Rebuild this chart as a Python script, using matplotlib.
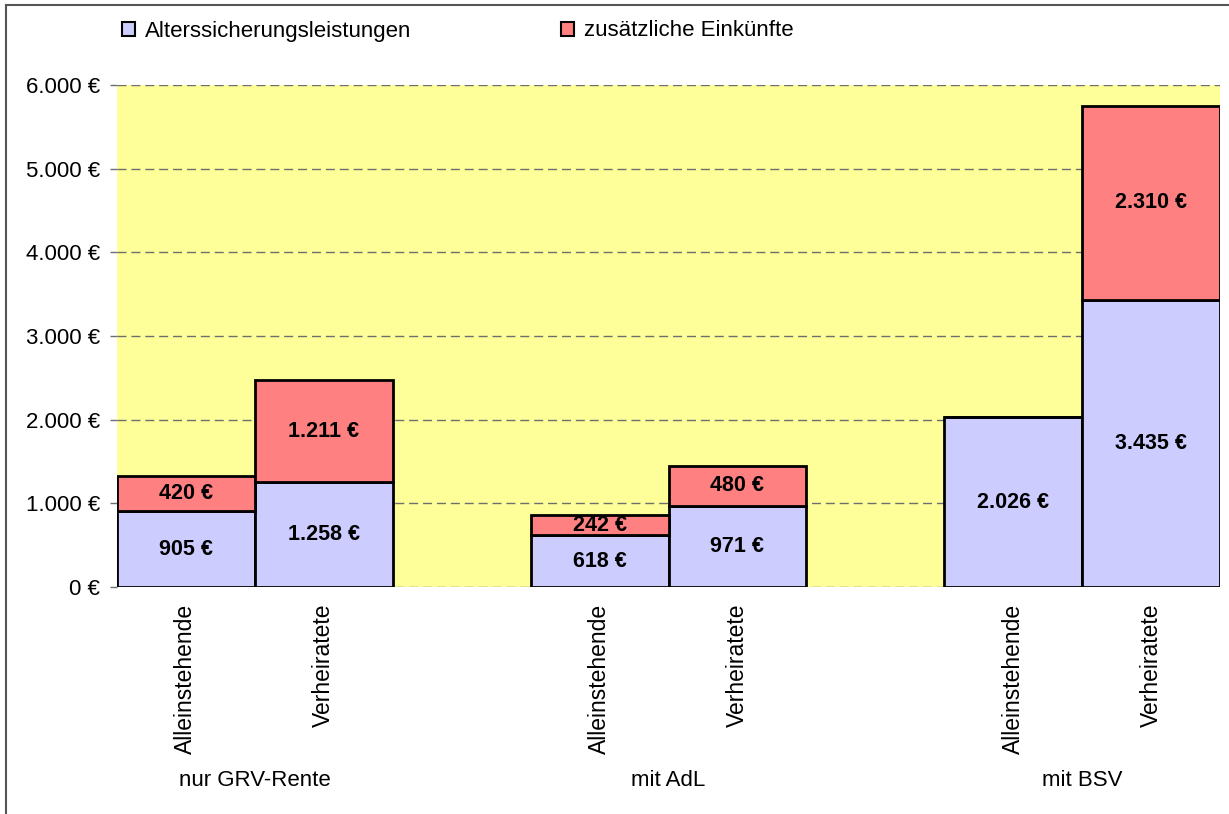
import numpy as np
import matplotlib.pyplot as plt
from matplotlib.patches import Patch
from matplotlib.lines import Line2D

plt.rcParams['font.family'] = ['Liberation Sans', 'DejaVu Sans']

# data
groups = ["nur GRV-Rente", "mit AdL", "mit BSV"]
bar_labels = ["Alleinstehende", "Verheiratete"] * 3
positions = [0, 1, 3, 4, 6, 7]
alters = [905, 1258, 618, 971, 2026, 3435]
zusatz = [420, 1211, 242, 480, 0, 2310]
yticks = [0, 1000, 2000, 3000, 4000, 5000, 6000]

c_alt = "#CCCCFF"
c_zus = "#FF8080"


def eur(v):
    return f"{v:,.0f} €".replace(",", ".")


fig = plt.figure(figsize=(12.29, 8.14), dpi=100)
ax = fig.add_axes([117 / 1229, 1 - 587 / 814, 1103 / 1229, 502 / 814])
ax.set_facecolor("#FFFF99")

ax.bar(positions, alters, width=1.0, color=c_alt, edgecolor="black", linewidth=2, zorder=3)
ax.bar(positions, zusatz, width=1.0, bottom=alters, color=c_zus, edgecolor="black",
       linewidth=2, zorder=3)

for p, a, z in zip(positions, alters, zusatz):
    ax.text(p, a / 2, eur(a), ha="center", va="center", fontsize=15.5, fontweight="bold", zorder=4)
    if z > 0:
        ax.text(p, a + z / 2, eur(z), ha="center", va="center", fontsize=15.5,
                fontweight="bold", zorder=4)

ax.set_xlim(-0.5, 7.5)
ax.set_ylim(0, 6000)
ax.set_yticks(yticks)
ax.set_yticklabels([eur(v) for v in yticks], fontsize=16)
ax.yaxis.grid(True, linestyle=(0, (6.5, 3.5)), color="#6e6e6e", linewidth=1, zorder=1)
ax.tick_params(axis="y", length=5, color="#6e6e6e", width=1, pad=7)
ax.set_xticks(positions)
ax.set_xticklabels(bar_labels, rotation=90, fontsize=16.5, va="top")
ax.tick_params(axis="x", length=0, pad=12)
for s in ax.spines.values():
    s.set_visible(False)

# group labels
for i, g in enumerate(groups):
    gx = positions[2 * i] + 0.5
    ax.text(gx, -0.385, g, transform=ax.get_xaxis_transform(), ha="center",
            va="center", fontsize=16)

# legend
handles = [Patch(facecolor=c_alt, edgecolor="black", linewidth=1.5),
           Patch(facecolor=c_zus, edgecolor="black", linewidth=1.5)]
fig.legend(handles, ["Alterssicherungsleistungen", "zusätzliche Einkünfte"],
           loc="center left", bbox_to_anchor=(122 / 1229, 1 - 31 / 814), ncol=2,
           frameon=False, fontsize=16, handlelength=0.6, handleheight=0.6,
           handletextpad=0.45, columnspacing=6.7, borderaxespad=0, borderpad=0)

# chart border (left and top)
fig.add_artist(Line2D([6 / 1229, 6 / 1229], [0, 1 - 5 / 814], color="#555555", linewidth=1.5))
fig.add_artist(Line2D([6 / 1229, 1], [1 - 5 / 814, 1 - 5 / 814], color="#555555", linewidth=1.5))

fig.savefig("out.png", dpi=100)
